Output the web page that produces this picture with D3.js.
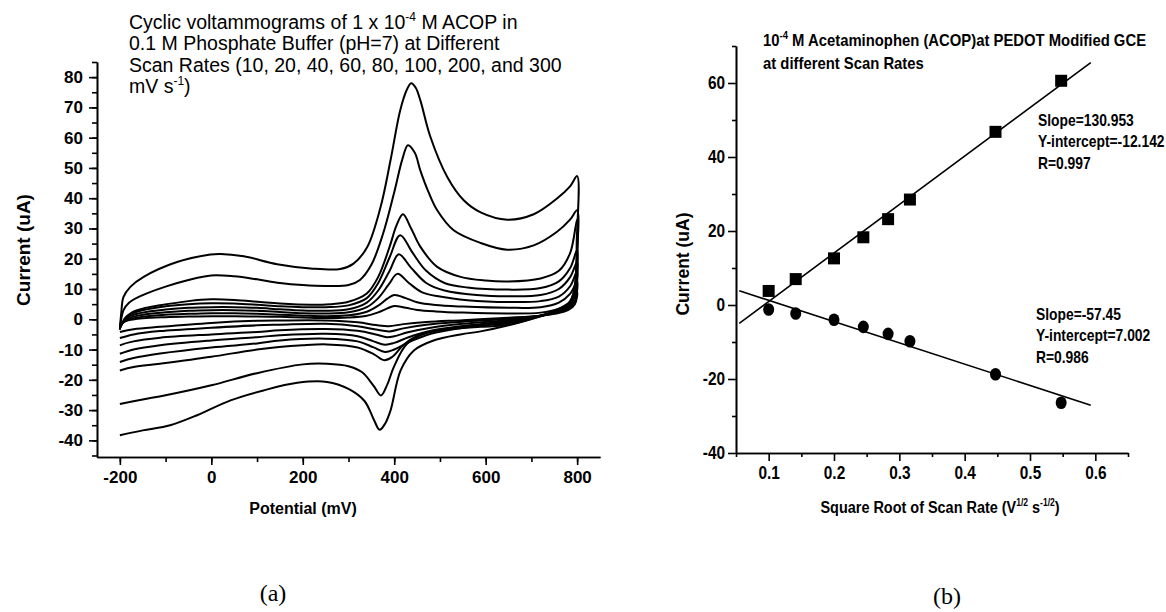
<!DOCTYPE html>
<html><head><meta charset="utf-8">
<script src="https://cdn.jsdelivr.net/npm/d3@7"></script>
<style>
html,body{margin:0;padding:0;background:#fff;}
svg{display:block;}
.narrow{font-family:"Liberation Sans",Arial,sans-serif;font-weight:bold;}
.arial{font-family:"Liberation Sans",Arial,sans-serif;}
</style>
</head><body>
<svg id="fig" width="1166" height="612"></svg>
<script>
// ---------- Panel (a): cyclic voltammograms, [potential mV, current uA] ----------
const scanRates = [10, 20, 40, 60, 80, 100, 200, 300];
const cv10Fwd = [[-200,-1.5],[-185,-0.5],[-150,0.3],[-100,0.7],[-50,0.9],[0,1.0],[50,1.0],[100,0.9],[150,0.8],[200,0.6],[250,0.4],[300,0.6],[340,1.2],[365,2.3],[385,3.6],[400,4.4],[425,3.8],[450,3.1],[490,2.6],[550,2.2],[650,1.9],[720,2.2],[760,3.5],[785,5.5],[800,9]];
const cv10Rev = [[795,5],[780,3],[750,1.8],[720,1.2],[650,0.5],[550,-0.3],[470,-0.9],[420,-1.6],[388,-2.3],[360,-1.9],[320,-1.0],[250,-0.4],[150,-0.4],[100,-0.5],[0,-1.2],[-112,-2.5],[-170,-3.3],[-200,-4.2]];
const cv20Fwd = [[-200,-2],[-185,-0.3],[-150,0.8],[-100,1.5],[-50,1.8],[0,2.0],[50,2.0],[100,1.8],[150,1.5],[200,1.2],[250,1.0],[300,1.3],[340,2.5],[365,4.5],[385,6.8],[400,8.0],[425,7.0],[450,5.6],[490,4.7],[550,4.2],[650,3.8],[720,4.0],[760,5.5],[785,8.5],[800,12.5]];
const cv20Rev = [[795,6],[780,3.5],[750,2.0],[720,1.2],[650,0.2],[550,-0.8],[470,-1.8],[420,-3.0],[390,-4.0],[360,-3.4],[320,-2.3],[250,-1.5],[150,-1.8],[100,-2.0],[0,-2.8],[-112,-3.9],[-170,-5.0],[-200,-6.2]];
const cv40Fwd = [[-200,-2.5],[-185,0],[-150,1.5],[-100,2.3],[-50,2.8],[0,3.0],[50,3.0],[100,2.8],[150,2.4],[200,2.0],[250,1.9],[300,2.3],[340,4.0],[365,7.0],[388,11.5],[407,15],[432,12],[460,9],[500,7.5],[560,6.3],[650,5.7],[720,6.0],[760,7.5],[785,11],[800,16]];
const cv40Rev = [[795,8],[780,4],[750,2.2],[720,1.2],[650,-0.2],[550,-1.5],[480,-2.8],[430,-4.3],[400,-5.6],[384,-5.9],[360,-5.0],[320,-3.8],[250,-3.2],[150,-3.6],[100,-4.2],[0,-5.0],[-112,-6.1],[-170,-7.3],[-200,-8.6]];
const cv60Fwd = [[-200,-3],[-185,0.5],[-150,2.2],[-100,3.2],[-50,3.8],[0,4.0],[50,4.0],[100,3.8],[150,3.3],[200,2.9],[250,2.8],[300,3.3],[340,5.5],[365,9.5],[390,16],[410,21.5],[437,17],[470,12],[510,9.5],[580,8.0],[650,7.6],[720,8.0],[760,10],[785,14],[800,19]];
const cv60Rev = [[795,9],[780,4.5],[750,2.3],[720,1.2],[650,-0.6],[550,-2.2],[480,-3.8],[430,-6.0],[400,-7.8],[380,-8.4],[355,-7.3],[320,-5.6],[250,-4.8],[150,-5.3],[100,-5.9],[0,-7.0],[-112,-8.6],[-170,-10],[-200,-11.4]];
const cv80Fwd = [[-200,-3.2],[-185,1.0],[-150,3.0],[-100,4.3],[-50,5.0],[0,5.3],[50,5.2],[100,4.8],[150,4.3],[200,4.0],[250,4.0],[300,4.6],[340,7.0],[365,12],[390,20.5],[413,27.8],[440,22],[470,16],[510,12],[560,10.5],[650,9.8],[720,10.3],[760,12.5],[785,17],[800,23]];
const cv80Rev = [[795,10],[780,5],[750,2.5],[720,1.2],[650,-1.0],[550,-2.8],[480,-4.8],[430,-7.7],[400,-10.0],[380,-10.8],[355,-9.3],[320,-7.3],[250,-6.4],[150,-7.0],[100,-8.0],[0,-9.3],[-112,-11.3],[-170,-12.8],[-200,-14.1]];
const cv100Fwd = [[-200,-2.5],[-177,1.9],[-150,3.5],[-112,4.6],[-50,6.0],[0,6.6],[50,6.4],[107,5.7],[150,5.2],[217,4.8],[260,5.0],[300,5.8],[340,8.5],[365,14],[390,24],[405,31],[419,34.7],[437,30],[457,24],[494,17.3],[545,14],[600,12.8],[650,12.5],[720,13.5],[760,16],[785,22],[800,33]];
const cv100Rev = [[797,14],[785,6],[750,2.8],[720,1.2],[650,-1.3],[590,-2.0],[500,-3.5],[450,-5.5],[420,-8.5],[395,-12.5],[378,-13.5],[355,-11.5],[320,-9.3],[253,-8.3],[200,-8.6],[100,-10.0],[0,-12.4],[-112,-14.7],[-170,-15.8],[-200,-16.9]];
const cv200Fwd = [[-200,-3],[-192,3],[-180,5.5],[-150,8],[-100,10.8],[-50,13],[0,14.5],[50,14.2],[100,13.2],[150,12.0],[200,11.3],[250,11.0],[300,11.3],[325,13],[350,18],[375,28],[400,42],[418,53],[430,57.5],[445,55],[457,49.2],[475,42],[494,36],[530,29.4],[589,25.2],[647,23],[705,24.4],[756,28.9],[785,33],[800,36]];
const cv200Rev = [[798,18],[793,7],[780,4],[750,2.5],[720,1.0],[650,-1.8],[589,-2.5],[545,-3],[472,-4.5],[428,-8.1],[399,-15.8],[385,-21.5],[371,-25.2],[355,-22],[330,-17.5],[300,-15.5],[253,-14.7],[200,-14.9],[100,-17.8],[0,-21.8],[-100,-25.1],[-150,-26.5],[-200,-28]];
const cv300Fwd = [[-200,-3.5],[-197,2],[-192,7.4],[-177,10.7],[-148,14],[-75,18.9],[-2,21.4],[20,21.6],[71,20.8],[144,18.2],[217,16.8],[282,16.6],[311,18.4],[341,23.9],[370,37],[392,52.6],[413,69],[428,76],[437,78],[447,76.5],[457,72.4],[479,60.3],[516,47],[552,39.3],[589,35.3],[647,32.9],[705,34.7],[756,39.9],[785,44],[800,47.3]];
const cv300Rev = [[799,25],[796,8],[785,5],[760,3],[720,1],[650,-2],[589,-4],[545,-5],[486,-7],[443,-10.3],[414,-16.9],[392,-30.1],[380,-34.5],[368,-36.5],[355,-33],[335,-27],[300,-23],[253,-20.7],[188,-21],[114,-23.5],[42,-26.8],[-31,-31.7],[-90,-35],[-150,-36.7],[-200,-38.3]];
const leftXTicks = [-200, 0, 200, 400, 600, 800];
const leftYTicks = [-40, -30, -20, -10, 0, 10, 20, 30, 40, 50, 60, 70, 80];

// ---------- Panel (b): peak current vs sqrt(scan rate) ----------
const sqrtScanRate = [0.1, 0.1414, 0.2, 0.2449, 0.2828, 0.3162, 0.4472, 0.5477];
const anodicPeak   = [3.8, 7.0, 12.6, 18.3, 23.2, 28.5, 46.8, 60.6];
const cathodicPeak = [-1.2, -2.3, -4.0, -5.9, -7.8, -9.8, -18.7, -26.4];
const anodicFit   = {slope: "130.953", intercept: "-12.142", r: "0.997"};
const cathodicFit = {slope: "-57.45", intercept: "7.002", r: "0.986"};
const fitRange = [0.055, 0.593];
const rightXTicks = [0.1, 0.2, 0.3, 0.4, 0.5, 0.6];
const rightYTicks = [-40, -20, 0, 20, 40, 60];

const cvCurves = [
  [cv10Fwd, cv10Rev], [cv20Fwd, cv20Rev], [cv40Fwd, cv40Rev], [cv60Fwd, cv60Rev],
  [cv80Fwd, cv80Rev], [cv100Fwd, cv100Rev], [cv200Fwd, cv200Rev], [cv300Fwd, cv300Rev]
];

const svg = d3.select("#fig");

function styleAxis(g, w) {
  g.selectAll("path.domain").attr("stroke", "#000").attr("stroke-width", w);
  g.selectAll(".tick line").attr("stroke", "#000").attr("stroke-width", w);
}
// horizontally condensed text (imitates a narrow bold face)
function narrow(sel, k) {
  sel.each(function () {
    const t = d3.select(this);
    const x = +t.attr("x") || 0;
    t.attr("x", x / k).attr("transform", `scale(${k},1)`);
  });
}

// ===== Panel (a) =====
const xa = d3.scaleLinear().domain([-250, 850]).range([97, 600]);
const ya = d3.scaleLinear().domain([-45.5, 85]).range([457, 62]);
const ga = svg.append("g");

const axMinorY = ga.append("g").attr("transform", "translate(97,0)")
  .call(d3.axisLeft(ya).tickValues(d3.range(-45, 86, 5)).tickSize(5).tickSizeOuter(0).tickFormat(""));
styleAxis(axMinorY, 1.6);
const axMinorX = ga.append("g").attr("transform", "translate(0,457)")
  .call(d3.axisBottom(xa).tickValues(d3.range(-200, 801, 100)).tickSize(5).tickSizeOuter(0).tickFormat(""));
styleAxis(axMinorX, 1.6);
const axY = ga.append("g").attr("transform", "translate(97,0)")
  .call(d3.axisLeft(ya).tickValues(leftYTicks).tickSize(8).tickSizeOuter(0).tickPadding(6).tickFormat(d => String(d)));
styleAxis(axY, 1.6);
axY.selectAll("text").attr("class", "arial").attr("font-size", 17).attr("font-weight", "bold").attr("fill", "#000");
const axX = ga.append("g").attr("transform", "translate(0,457)")
  .call(d3.axisBottom(xa).tickValues(leftXTicks).tickSize(8).tickSizeOuter(0).tickPadding(6).tickFormat(d => String(d)));
styleAxis(axX, 1.6);
axX.selectAll("text").attr("class", "arial").attr("font-size", 17).attr("font-weight", "bold").attr("fill", "#000");

const lineA = d3.line().x(d => xa(d[0])).y(d => ya(d[1])).curve(d3.curveCatmullRom.alpha(0.5));
ga.selectAll("path.cv").data(cvCurves).enter().append("path")
  .attr("class", "cv")
  .attr("d", d => lineA(d[0].concat(d[1])))
  .attr("fill", "none").attr("stroke", "#000").attr("stroke-width", 2).attr("stroke-linejoin", "round");

// title (a)
const tA = [["Cyclic voltammograms of 1 x 10", "-4", " M ACOP in"],
            ["0.1 M Phosphate Buffer (pH=7) at Different"],
            ["Scan Rates (10, 20, 40, 60, 80, 100, 200, and 300"],
            ["mV s", "-1", ")"]];
tA.forEach((parts, i) => {
  const t = ga.append("text").attr("class", "arial").attr("font-size", 19.5).attr("fill", "#000")
    .attr("x", 129).attr("y", 28.5 + i * 21.6);
  parts.forEach((p, j) => {
    if (j === 1) t.append("tspan").attr("font-size", 12).attr("dy", -8).text(p);
    else if (j === 2) t.append("tspan").attr("dy", 8).text(p);
    else t.append("tspan").text(p);
  });
});
ga.append("text").attr("class", "arial").attr("font-size", 19).attr("font-weight", "bold")
  .attr("transform", "translate(30,250) rotate(-90)").attr("text-anchor", "middle").text("Current (uA)");
ga.append("text").attr("class", "arial").attr("font-size", 16).attr("font-weight", "bold")
  .attr("x", 303).attr("y", 514).attr("text-anchor", "middle").text("Potential (mV)");
ga.append("text").attr("font-family", "'Liberation Serif','Times New Roman',serif").attr("font-size", 24)
  .attr("x", 273).attr("y", 601).attr("text-anchor", "middle").text("(a)");

// ===== Panel (b) =====
const xb = d3.scaleLinear().domain([0.05, 0.65]).range([736, 1128]);
const yb = d3.scaleLinear().domain([-40, 70]).range([453, 46]);
const gb = svg.append("g");
const bMinorY = gb.append("g").attr("transform", "translate(736,0)")
  .call(d3.axisLeft(yb).tickValues(d3.range(-30, 71, 20)).tickSize(4).tickSizeOuter(0).tickFormat(""));
styleAxis(bMinorY, 1.6);
const bMinorX = gb.append("g").attr("transform", "translate(0,453)")
  .call(d3.axisBottom(xb).tickValues([0.05,0.15,0.25,0.35,0.45,0.55,0.65]).tickSize(4).tickSizeOuter(0).tickFormat(""));
styleAxis(bMinorX, 1.6);
const bY = gb.append("g").attr("transform", "translate(736,0)")
  .call(d3.axisLeft(yb).tickValues(rightYTicks).tickSize(8).tickSizeOuter(0).tickPadding(3).tickFormat(d => String(d)));
styleAxis(bY, 1.6);
bY.selectAll("text").attr("class", "narrow").attr("font-size", 17.5).attr("fill", "#000");
narrow(bY.selectAll("text"), 0.88);
const bX = gb.append("g").attr("transform", "translate(0,453)")
  .call(d3.axisBottom(xb).tickValues(rightXTicks).tickSize(8).tickSizeOuter(0).tickPadding(6).tickFormat(d => d.toFixed(1)));
styleAxis(bX, 1.6);
bX.selectAll("text").attr("class", "narrow").attr("font-size", 17.5).attr("fill", "#000");
narrow(bX.selectAll("text"), 0.88);

const fitLine = d3.line().x(d => xb(d[0])).y(d => yb(d[1]));
[anodicFit, cathodicFit].forEach(f => {
  gb.append("path").attr("d", fitLine(fitRange.map(x => [x, +f.slope * x + +f.intercept])))
    .attr("fill", "none").attr("stroke", "#000").attr("stroke-width", 1.6);
});
const sq = 12;
gb.selectAll("rect.an").data(sqrtScanRate).enter().append("rect")
  .attr("x", (d) => xb(d) - sq / 2).attr("y", (d, i) => yb(anodicPeak[i]) - sq / 2)
  .attr("width", sq).attr("height", sq).attr("fill", "#000");
gb.selectAll("ellipse.ca").data(sqrtScanRate).enter().append("ellipse")
  .attr("cx", d => xb(d)).attr("cy", (d, i) => yb(cathodicPeak[i]))
  .attr("rx", 5.5).attr("ry", 6.3).attr("fill", "#000");

// titles (b)
const tb1 = gb.append("text").attr("class", "narrow").attr("font-size", 16.5).attr("x", 763).attr("y", 46);
tb1.append("tspan").text("10");
tb1.append("tspan").attr("font-size", 10.5).attr("dy", -7).text("-4");
tb1.append("tspan").attr("dy", 7).text(" M Acetaminophen (ACOP)at PEDOT Modified GCE");
const tb2 = gb.append("text").attr("class", "narrow").attr("font-size", 16.5).attr("x", 763).attr("y", 69).text("at different Scan Rates");
narrow(tb1, 0.9); narrow(tb2, 0.9);

const annA = ["Slope=" + anodicFit.slope, "Y-intercept=" + anodicFit.intercept, "R=" + anodicFit.r];
annA.forEach((s, i) => narrow(gb.append("text").attr("class", "narrow").attr("font-size", 16.3)
  .attr("x", 1038).attr("y", 126 + i * 21.5).text(s), 0.85));
const annC = ["Slope=" + cathodicFit.slope, "Y-intercept=" + cathodicFit.intercept, "R=" + cathodicFit.r];
annC.forEach((s, i) => narrow(gb.append("text").attr("class", "narrow").attr("font-size", 16.3)
  .attr("x", 1036).attr("y", 320 + i * 21.3).text(s), 0.85));

gb.append("text").attr("class", "arial").attr("font-size", 17.5).attr("font-weight", "bold")
  .attr("transform", "translate(689,264) rotate(-90)").attr("text-anchor", "middle").text("Current (uA)");
const xlb = gb.append("text").attr("class", "narrow").attr("font-size", 17).attr("x", 940).attr("y", 513).attr("text-anchor", "middle");
xlb.append("tspan").text("Square Root of Scan Rate (V");
xlb.append("tspan").attr("font-size", 10).attr("dy", -7).text("1/2");
xlb.append("tspan").attr("dy", 7).text(" s");
xlb.append("tspan").attr("font-size", 10).attr("dy", -7).text("-1/2");
xlb.append("tspan").attr("dy", 7).text(")");
narrow(xlb, 0.85);
gb.append("text").attr("font-family", "'Liberation Serif','Times New Roman',serif").attr("font-size", 24)
  .attr("x", 947).attr("y", 604).attr("text-anchor", "middle").text("(b)");
</script>
</body></html>
